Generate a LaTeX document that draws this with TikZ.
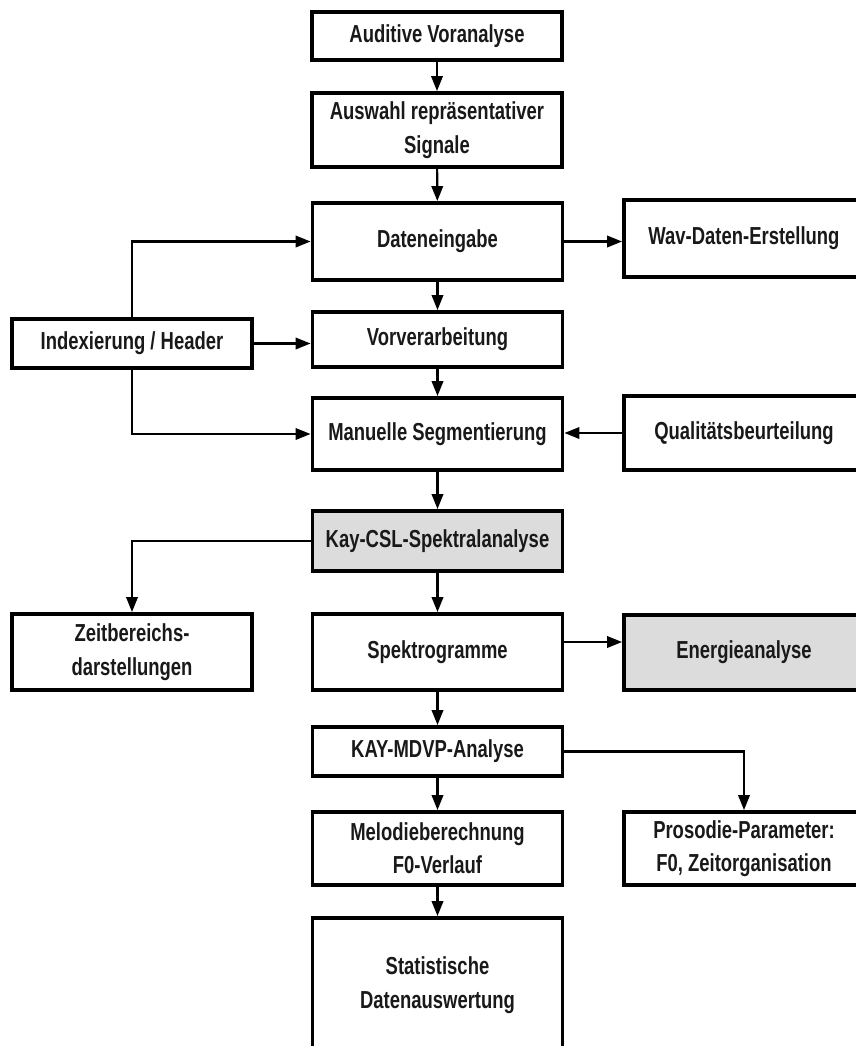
\documentclass[tikz,border=0pt]{standalone}
\usepackage{fontspec}
\setmainfont{Liberation Sans}[FakeStretch=0.75]
\usetikzlibrary{arrows.meta}
\tikzset{
  stage/.style={draw, line width=2.2pt, align=center, inner sep=2pt, text=black!90,
    font=\fontsize{14}{19}\selectfont\bfseries},
  flow/.style={line width=1.2pt, -{Triangle[length=8.5pt,width=6.5pt]}},
}
\begin{document}
\begin{tikzpicture}
\useasboundingbox (0,0) rectangle (17.12,-20.92);
\clip (0,0) rectangle (17.12,-20.92);
\definecolor{shade}{HTML}{DCDCDC}
\node[stage, minimum width=5cm, minimum height=0.96cm] (audit) at (8.74,-0.72) {Auditive Voranalyse};
\node[stage, minimum width=5cm, minimum height=1.48cm] (auswahl) at (8.74,-2.60) {Auswahl repräsentativer\\Signale};
\node[stage, minimum width=5cm, minimum height=1.54cm] (eingabe) at (8.75,-4.83) {Dateneingabe};
\node[stage, minimum width=4.8cm, minimum height=1.54cm] (wav) at (14.88,-4.77) {Wav-Daten-Erstellung};
\node[stage, minimum width=4.8cm, minimum height=0.98cm] (index) at (2.64,-6.87) {Indexierung / Header};
\node[stage, minimum width=5cm, minimum height=1.1cm] (vorv) at (8.75,-6.79) {Vorverarbeitung};
\node[stage, minimum width=5cm, minimum height=1.44cm] (manuell) at (8.75,-8.68) {Manuelle Segmentierung};
\node[stage, minimum width=4.8cm, minimum height=1.48cm] (qual) at (14.88,-8.66) {Qualitätsbeurteilung};
\node[stage, fill=shade, minimum width=5cm, minimum height=1.2cm] (kay) at (8.75,-10.82) {Kay-CSL-Spektralanalyse};
\node[stage, minimum width=4.8cm, minimum height=1.52cm] (zeit) at (2.64,-13.04) {Zeitbereichs-\\darstellungen};
\node[stage, minimum width=5cm, minimum height=1.52cm] (spektro) at (8.75,-13.04) {Spektrogramme};
\node[stage, fill=shade, minimum width=4.8cm, minimum height=1.5cm] (energie) at (14.88,-13.05) {Energieanalyse};
\node[stage, minimum width=5cm, minimum height=0.98cm] (mdvp) at (8.75,-15.03) {KAY-MDVP-Analyse};
\node[stage, minimum width=5cm, minimum height=1.46cm] (melodie) at (8.75,-16.97) {Melodieberechnung\\F0-Verlauf};
\node[stage, minimum width=4.8cm, minimum height=1.46cm] (prosodie) at (14.88,-16.97) {Prosodie-Parameter:\\F0, Zeitorganisation};
\node[stage, minimum width=5cm, minimum height=2.68cm] (statistik) at (8.75,-19.70) {Statistische\\Datenauswertung};
\draw[flow] (audit) -- (auswahl);
\draw[flow] (auswahl) -- (eingabe);
\draw[flow] (eingabe.east) -- (eingabe.east -| wav.west);
\draw[flow] (eingabe) -- (vorv);
\draw[flow] (index.east) -- (index.east -| vorv.west);
\draw[flow] (index.north) |- (eingabe.west);
\draw[flow] (index.south) |- (manuell.west);
\draw[flow] (vorv) -- (manuell);
\draw[flow] (qual.west) -- (qual.west -| manuell.east);
\draw[flow] (manuell) -- (kay);
\draw[flow] (kay.west) -| (zeit.north);
\draw[flow] (kay) -- (spektro);
\draw[flow] ([yshift=0.2cm]spektro.east) -- ([yshift=0.2cm]spektro.east -| energie.west);
\draw[flow] (spektro) -- (mdvp);
\draw[flow] (mdvp.east) -| (prosodie.north);
\draw[flow] (mdvp) -- (melodie);
\draw[flow] (melodie) -- (statistik);
\end{tikzpicture}
\end{document}
